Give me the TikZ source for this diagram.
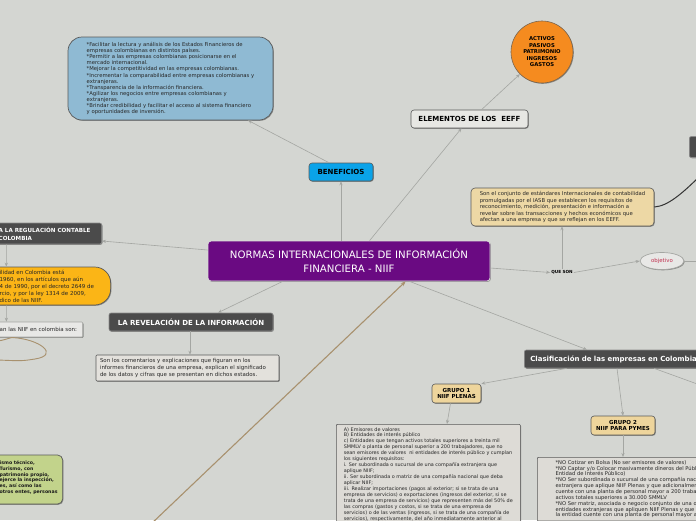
\documentclass[tikz,border=0pt]{standalone}
\usepackage{fontspec}
\setmainfont{DejaVu Sans}
\usetikzlibrary{arrows.meta,shadows,shapes.geometric}
\definecolor{bgc}{HTML}{D4D6D2}
\definecolor{connc}{HTML}{A4A6A2}
\definecolor{benefF}{HTML}{8FBAD3}
\definecolor{elemF}{HTML}{E7E7E3}
\definecolor{orangeF}{HTML}{F58B1F}
\definecolor{beneficF}{HTML}{0AA3E9}
\definecolor{darkF}{HTML}{4B4B4B}
\definecolor{tanF}{HTML}{EDD8A5}
\definecolor{purpleF}{HTML}{6A0A82}
\definecolor{yellowF}{HTML}{FBB516}
\definecolor{greyF}{HTML}{E8E8E6}
\definecolor{descF}{HTML}{E3E1DC}
\definecolor{greenF}{HTML}{C2D38B}
\definecolor{grupoF}{HTML}{EED59C}
\definecolor{gtextF}{HTML}{DDDBD6}
\definecolor{tanline}{HTML}{A8916E}
\definecolor{objred}{HTML}{C0304F}
\definecolor{edge}{HTML}{5A5A5A}
\begin{document}
\begin{tikzpicture}[x=1pt,y=-1pt,
  shd/.style={drop shadow={shadow xshift=0.8pt,shadow yshift=-0.8pt,opacity=0.35,fill=black}},
  conn/.style={draw=connc,line width=0.6pt,-{Stealth[length=4pt,width=3.2pt]}},
  tanconn/.style={draw=tanline,line width=1.1pt,-{Stealth[length=5pt,width=4pt]}},
  darkbox/.style={shd,fill=darkF,draw=edge!70!white,line width=0.6pt,rounded corners=2pt,text=white,font=\bfseries\fontsize{7}{8}\selectfont,inner sep=0pt},
  descbox/.style={shd,fill=descF,draw=edge,line width=0.6pt,rounded corners=1pt,align=left,text=black!85},
  grupo/.style={shd,fill=grupoF,draw=edge,line width=0.6pt,rounded corners=3pt,align=center,font=\bfseries\fontsize{5.5}{6.4}\selectfont,inner sep=0pt},
]
\useasboundingbox (0,0) rectangle (696,520);
\fill[bgc] (0,0) rectangle (696,520);
\clip (0,0) rectangle (696,520);

% benefits text box
\node[shd,fill=benefF,draw=edge,line width=0.7pt,rounded corners=14pt,minimum width=205pt,minimum height=83pt,inner sep=0pt,align=left,font=\fontsize{5.3}{6.05}\selectfont,text=black!85] (benbox) at (170.5,78.5) {{}*Facilitar la lectura y análisis de los Estados Financieros de\\{}empresas colombianas en distintos países.\\{}*Permitir a las empresas colombianas posicionarse en el\\{}mercado internacional.\\{}*Mejorar la competitividad en las empresas colombianas.\\{}*Incrementar la comparabilidad entre empresas colombianas y\\{}extranjeras.\\{}*Transparencia de la información financiera.\\{}*Agilizar los negocios entre empresas colombianas y\\{}extranjeras.\\{}*Brindar credibilidad y facilitar el acceso al sistema financiero\\{}y oportunidades de inversión.};

% ELEMENTOS
\node[shd,fill=elemF,draw=edge,line width=0.6pt,rounded corners=3pt,minimum width=117pt,minimum height=18pt,inner sep=0pt,font=\bfseries\fontsize{7}{8}\selectfont] (elem) at (469.5,119) {ELEMENTOS DE LOS\ \ EEFF};

% orange circle
\node[shd,circle,fill=orangeF,draw=edge!80!orangeF,line width=0.6pt,minimum size=62pt,inner sep=0pt,align=center,font=\bfseries\fontsize{5.3}{6.5}\selectfont] (act) at (542,52) {ACTIVOS\\PASIVOS\\PATRIMONIO\\INGRESOS\\GASTOS};

% BENEFICIOS
\node[shd,fill=beneficF,draw=edge,line width=0.6pt,rounded corners=3pt,minimum width=64pt,minimum height=18pt,inner sep=0pt,font=\bfseries\fontsize{7}{8}\selectfont] (benef) at (341,172) {BENEFICIOS};

% top-right dark box
\node[darkbox,minimum width=30pt,minimum height=21pt,anchor=west] (trbox) at (689,147) {};

% tan definition box
\node[shd,fill=tanF,draw=edge,line width=0.6pt,rounded corners=4pt,minimum width=183pt,minimum height=38pt,inner sep=0pt,align=left,font=\fontsize{5.3}{6.5}\selectfont,text=black!85] (tan) at (562.5,207) {Son el conjunto de estándares Internacionales de contabilidad\\promulgadas por el IASB que establecen los requisitos de\\reconocimiento, medición, presentación e información a\\revelar sobre las transacciones y hechos económicos que\\afectan a una empresa y que se reflejan en los EEFF.};

% main purple box
\node[shd,fill=purpleF,draw=white!85!black,line width=0.8pt,rounded corners=3pt,minimum width=282pt,minimum height=40pt,inner sep=0pt,align=center,text=white,font=\fontsize{10.2}{13.5}\selectfont] (main) at (349,261) {NORMAS INTERNACIONALES DE INFORMACIÓN\\FINANCIERA - NIIF};

% QUE SON
\node[inner sep=1pt,font=\bfseries\fontsize{4.2}{5}\selectfont] (queson) at (562,272.5) {QUE SON};

% objetivo
\node[shd,ellipse,fill=greyF,draw=connc,line width=0.7pt,minimum width=44pt,minimum height=17pt,inner sep=0pt,text=objred,font=\fontsize{5.4}{6}\selectfont] (obj) at (662,261) {objetivo};
\coordinate (objend) at (700,261);

% left dark box (regulation)
\node[darkbox,minimum width=112pt,minimum height=21pt,anchor=east] (reg) at (102,233.5) {};
\node[anchor=west,inner sep=0pt,align=left,text=white,font=\bfseries\fontsize{5.6}{8}\selectfont] (regt) at (-1.5,233.5) {A LA REGULACIÓN CONTABLE\\COLOMBIA};

% yellow box
\node[shd,fill=yellowF,draw=edge,line width=0.7pt,rounded corners=16pt,minimum width=141pt,minimum height=38pt,anchor=east,inner sep=0pt] (yel) at (111,286) {};
\node[anchor=west,inner sep=0pt,align=left,text=black!85,font=\fontsize{5.5}{7}\selectfont] (yelt) at (-0.5,286.5) {ilidad en Colombia está\\1960, en los artículos que aún\\4 de 1990, por el decreto 2649 de\\rcio, y por la ley 1314 de 2009,\\dico de las NIIF.};

% small grey box
\node[shd,fill=greyF,draw=connc,line width=0.6pt,rounded corners=1pt,minimum width=93pt,minimum height=15pt,anchor=east,inner sep=0pt] (sonb) at (83,329.5) {};
\node[anchor=west,inner sep=0pt,text=black!85,font=\fontsize{5.5}{6}\selectfont] (sonbt) at (-0.5,329.8) {an las NIIF en colombia son:};

% tan loop
\draw[tanline,line width=0.9pt] (-2,341) .. controls (5,340) and (9,338) .. (12,337.5);
\draw[tanline,line width=0.9pt] (12,337.5) .. controls (40,339) and (60,355) .. (35,359) .. controls (22,361) .. (-2,360);

% Revelacion
\node[darkbox,minimum width=164pt,minimum height=18pt] (rev) at (191,322) {LA REVELACIÓN DE LA INFORMACIÓN};
\node[descbox,minimum width=183pt,minimum height=26pt,text width=175pt,inner xsep=4pt,font=\fontsize{5.45}{6.7}\selectfont] (revd) at (187.5,368) {Son los comentarios y explicaciones que figuran en los\\informes financieros de una empresa, explican el significado\\de los datos y cifras que se presentan en dichos estados.};

% green box
\node[shd,fill=greenF,draw=edge,line width=0.7pt,rounded corners=5pt,minimum width=93pt,minimum height=49pt,anchor=east,inner sep=0pt] (grn) at (63,479.5) {};
\node[anchor=west,inner sep=0pt,align=left,text=black!90,font=\bfseries\fontsize{4.7}{5.7}\selectfont] (grnt) at (-0.5,477.5) {ismo técnico,\\ Turismo, con\\ patrimonio propio,\\ejerce la inspección,\\es, así como las\\otros entes, personas};

% Clasificacion
\node[darkbox,anchor=west,minimum width=200pt,minimum height=18pt,text width=190pt,inner xsep=6pt,align=left] (clas) at (524,359) {Clasificación de las empresas en Colombia};

% grupos
\node[grupo,minimum width=49pt,minimum height=19pt] (g1) at (456.5,393.5) {GRUPO 1\\NIIF PLENAS};
\node[grupo,minimum width=64pt,minimum height=19pt] (g2) at (623,425.5) {GRUPO 2\\NIIF PARA PYMES};

\node[descbox,fill=gtextF,anchor=north west,minimum width=184pt,inner xsep=3.5pt,inner ysep=3pt,font=\fontsize{4.9}{5.95}\selectfont] (g1t) at (336,424) {A) Emisores de valores\\B) Entidades de interés público\\c) Entidades que tengan activos totales superiores a treinta mil\\SMMLV o planta de personal superior a 200 trabajadores, que no\\sean emisores de valores\ \ ni entidades de interés público y cumplan\\los siguientes requisitos:\\i. Ser subordinada o sucursal de una compañía extranjera que\\aplique NIIF;\\ii. Ser subordinada o matriz de una compañía nacional que deba\\aplicar NIIF;\\iii. Realizar importaciones (pagos al exterior; si se trata de una\\empresa de servicios) o exportaciones (ingresos del exterior, si se\\trata de una empresa de servicios) que representen más del 50\% de\\las compras (gastos y costos, si se trata de una empresa de\\servicios) o de las ventas (ingresos, si se trata de una compañía de\\servicios), respectivamente, del año inmediatamente anterior al};

\node[descbox,fill=gtextF,anchor=north west,minimum width=200pt,inner xsep=4pt,inner ysep=3pt,font=\fontsize{5.2}{5.85}\selectfont] (g2t) at (537,457) {{}*NO Cotizar en Bolsa (No ser emisores de valores)\\{}*NO Captar y/o Colocar masivamente dineros del Público (No\\{}Entidad de Interés Público)\\{}*NO Ser subordinada o sucursal de una compañía nacional o\\{}extranjera que aplique NIIF Plenas y que adicionalmente la em\\{}cuente con una planta de personal mayor a 200 trabajadores\\{}activos totales superiores a 30.000 SMMLV\\{}*NO Ser matriz, asociada o negocio conjunto de una o más\\{}entidades extranjeras que apliquen NIIF Plenas y que adiciona\\{}la entidad cuente con una planta de personal mayor a 200};

% free-end coordinates
\coordinate (tanstart) at (150,525);
\coordinate (clasend) at (700,385);
\coordinate (curveend) at (704,172);

% connectors
\draw[conn] (benef.south |- main.north) -- (benef.south);
\draw[conn] ([xshift=-12pt]benef.north) -- ([xshift=77.5pt]benbox.south);
\draw[conn] ([xshift=162pt]main.north west) -- ([xshift=-8pt]elem.south);
\draw[conn] ([xshift=12pt]elem.north) -- (act.225);
\draw[conn] ([yshift=-7pt]main.east) -- (queson.west);
\draw[conn] (queson.north) -- (queson.north |- tan.south);
\draw[conn] (queson.east) -- (obj.west);
\draw[connc,line width=0.6pt] (obj.east) -- (objend);
\draw[conn] ([yshift=11pt]main.west) -- ([yshift=-7.5pt]reg.east);
\draw[conn] ([xshift=17pt]reg.south west) -- ([xshift=37pt]yel.north west);
\draw[conn] ([xshift=37pt]yel.south west) -- ([xshift=17pt]sonb.north west);
\draw[conn] ([xshift=75pt]main.south west) -- ([xshift=27pt]rev.north);
\draw[conn] ([xshift=-1pt]rev.south) -- ([xshift=-1pt]rev.south |- revd.north);
\draw[tanconn] (tanstart) -- ([xshift=198pt]main.south west);
\draw[conn] ([xshift=202pt]main.south west) -- ([xshift=63pt]clas.north west);
\draw[conn] ([xshift=43pt]clas.south west) -- (g1.north east);
\draw[conn] ([xshift=93pt]clas.south west) -- (g2.north);
\draw[connc,line width=0.6pt] ([xshift=130pt]clas.south west) -- (clasend);
\draw[conn] ([xshift=-6pt]g1.south) -- ([xshift=111pt]g1t.north west);
\draw[conn] (g2.south) -- (g2.south |- g2t.north);
\draw[black!80,line width=1pt] (tan.east) .. controls (668,206) and (682,194) .. (curveend);
\end{tikzpicture}
\end{document}
